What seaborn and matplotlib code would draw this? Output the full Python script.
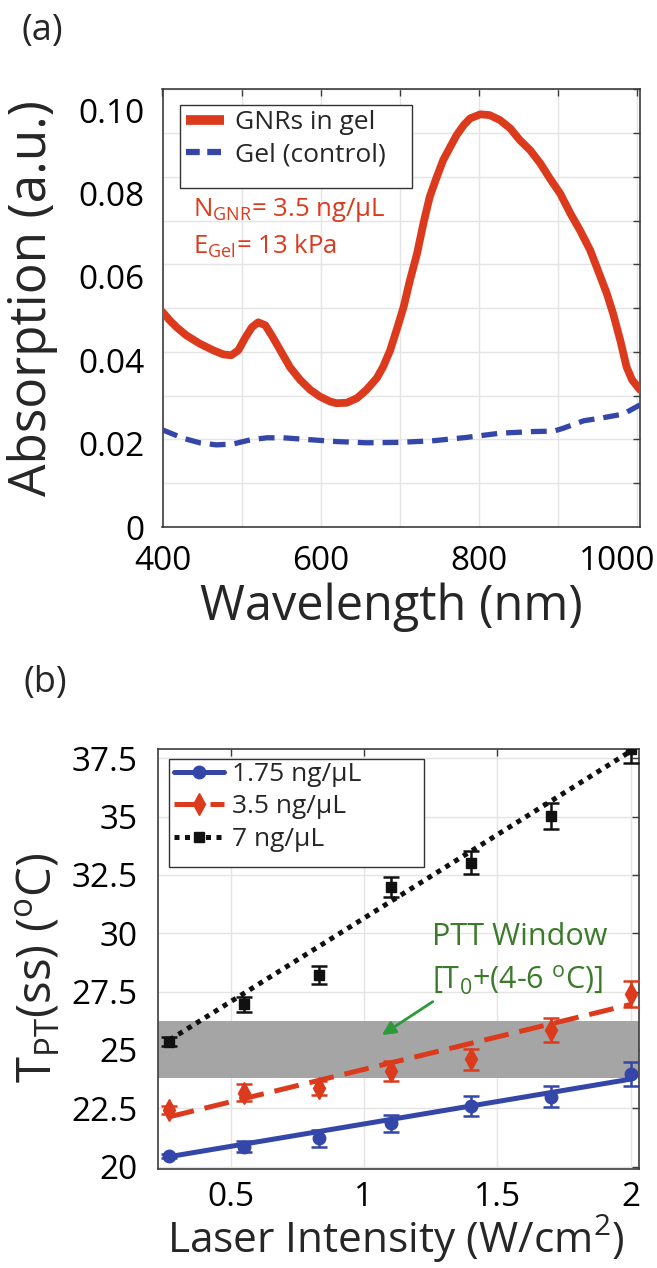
import numpy as np
import pandas as pd
import matplotlib
matplotlib.use("Agg")
import matplotlib.pyplot as plt
import matplotlib.transforms as mtransforms
from matplotlib.lines import Line2D
from matplotlib.patches import Rectangle
from matplotlib.ticker import FixedLocator
import seaborn as sns

# ---------------- (a) absorption spectra ----------------
gnr_wavelength = [400, 409, 418, 430, 447, 464, 477, 487, 496, 504, 513, 521, 530,
                  538, 549, 561, 574, 587, 599, 612, 620, 633, 646, 658, 671, 679,
                  688, 696, 705, 713, 722, 730, 738, 747, 755, 764, 772, 781, 789,
                  802, 814, 827, 840, 852, 865, 878, 890, 903, 916, 928, 941, 954,
                  962, 970, 979, 987, 994, 1004]
gnr_absorption = [0.0516, 0.0496, 0.0479, 0.0460, 0.0440, 0.0424, 0.0414, 0.0412,
                  0.0424, 0.0452, 0.0479, 0.0491, 0.0484, 0.0460, 0.0424, 0.0384,
                  0.0353, 0.0329, 0.0313, 0.0301, 0.0297, 0.0298, 0.0309, 0.0329,
                  0.0357, 0.0384, 0.0424, 0.0472, 0.0528, 0.0592, 0.0656, 0.0728,
                  0.0792, 0.0840, 0.0880, 0.0912, 0.0940, 0.0964, 0.0980, 0.0990,
                  0.0988, 0.0976, 0.0956, 0.0928, 0.0904, 0.0872, 0.0836, 0.0800,
                  0.0752, 0.0712, 0.0664, 0.0600, 0.0560, 0.0512, 0.0448, 0.0384,
                  0.0353, 0.0329]
gel_wavelength = [400, 426, 447, 468, 489, 511, 532, 553, 582, 620, 658, 700, 743,
                  785, 827, 869, 895, 907, 933, 954, 983, 1004]
gel_absorption = [0.0233, 0.0213, 0.0202, 0.0197, 0.0199, 0.0209, 0.0214, 0.0214,
                  0.0210, 0.0205, 0.0202, 0.0203, 0.0207, 0.0215, 0.0225, 0.0229,
                  0.0230, 0.0237, 0.0255, 0.0261, 0.0271, 0.0293]
spectrum_labels = ["GNRs in gel", "Gel (control)"]
abs_ticks = [0, 0.02, 0.04, 0.06, 0.08, 0.10]
abs_ticklabels = ["0", "0.02", "0.04", "0.06", "0.08", "0.10"]
wl_ticks = [400, 600, 800, 1000]

# ---------------- (b) photothermal temperature ----------------
intensity = [0.27, 0.55, 0.83, 1.1, 1.4, 1.7, 2.0]
temp_175 = [20.47, 20.86, 21.22, 21.86, 22.61, 23.00, 23.96]
err_175 = [0.08, 0.24, 0.36, 0.36, 0.43, 0.45, 0.51]
temp_35 = [22.43, 23.17, 23.36, 24.10, 24.60, 25.86, 27.40]
err_35 = [0.16, 0.36, 0.30, 0.41, 0.44, 0.51, 0.54]
temp_7 = [25.36, 26.96, 28.22, 31.98, 33.03, 35.03, 37.89]
err_7 = [0.18, 0.32, 0.38, 0.43, 0.50, 0.54, 0.60]
fit_intensity = [0.27, 2.0]
fit_175 = [20.43, 23.75]
fit_35 = [22.14, 26.95]
fit_7 = [25.43, 37.80]
ptt_window = [23.8, 26.25]
conc_labels = ["1.75 ng/\u03bcL", "3.5 ng/\u03bcL", "7 ng/\u03bcL"]
temp_ticks = [20, 22.5, 25, 27.5, 30, 32.5, 35, 37.5]
temp_ticklabels = ["20", "22.5", "25", "27.5", "30", "32.5", "35", "37.5"]
int_ticks = [0.5, 1, 1.5, 2]
int_ticklabels = ["0.5", "1", "1.5", "2"]

RED = "#DC3A1C"
BLUE = "#3447A8"
BLACK = "#111111"
GRID = "#E4E4E4"
FRAME = "#3C3C3C"
GREEN_TEXT = "#3C7A2B"
GREEN_ARROW = "#2C9A3A"

sns.set_style("white")
plt.rcParams["font.family"] = ["Open Sans", "DejaVu Sans"]
plt.rcParams["mathtext.fontset"] = "custom"
plt.rcParams["mathtext.rm"] = "Open Sans"
plt.rcParams["mathtext.it"] = "Open Sans:italic"
plt.rcParams["mathtext.bf"] = "Open Sans:bold"

W, H = 657, 1268
fig = plt.figure(figsize=(W / 100, H / 100), dpi=100)


def axes_px(left, top, right, bottom):
    return fig.add_axes([left / W, 1 - bottom / H, (right - left) / W, (bottom - top) / H])


def px_box(ax, left, top, right, bottom):
    """White legend box given in figure pixels."""
    r = Rectangle((left / W, 1 - bottom / H), (right - left) / W, (bottom - top) / H,
                  transform=fig.transFigure, facecolor="white", edgecolor="#333333",
                  linewidth=1.0, zorder=5, clip_on=False)
    ax.add_patch(r)


def style_frame(ax):
    for sp in ax.spines.values():
        sp.set_color(FRAME)
        sp.set_linewidth(1.2)
    ax.tick_params(which="both", direction="in", top=True, right=True,
                   color=FRAME, width=1.0, labelsize=24, labelcolor="black")
    ax.tick_params(which="major", length=5)
    ax.tick_params(which="minor", length=5)


# ---------------- panel (a) ----------------
ax1 = axes_px(162.5, 89.3, 640, 527)
spec_gnr = pd.DataFrame({"wavelength": gnr_wavelength, "absorption": gnr_absorption})
spec_gel = pd.DataFrame({"wavelength": gel_wavelength, "absorption": gel_absorption})
sns.lineplot(data=spec_gnr, x="wavelength", y="absorption", ax=ax1, color=RED,
             linewidth=5.6, estimator=None, sort=False, zorder=3)
sns.lineplot(data=spec_gel, x="wavelength", y="absorption", ax=ax1, color=BLUE,
             linewidth=3.8, estimator=None, sort=False, zorder=3)
ax1.lines[-1].set_dashes((3.0, 1.7))
ax1.set_xlim(400, 1004)
ax1.set_ylim(0, 0.105)
style_frame(ax1)

ax1.xaxis.set_major_locator(FixedLocator(wl_ticks))
ax1.xaxis.set_minor_locator(FixedLocator(np.arange(400, 1001, 100)))
ax1.set_xticklabels([str(t) for t in wl_ticks])
ax1.yaxis.set_major_locator(FixedLocator(abs_ticks))
ax1.set_yticklabels(abs_ticklabels)
ax1.yaxis.set_minor_locator(FixedLocator(np.linspace(0, 0.105, 11)))
ax1.tick_params(axis="y", which="major", length=0, pad=13)
ax1.tick_params(axis="x", which="major", pad=13)
ax1.grid(True, which="minor", color=GRID, linewidth=1.0, zorder=0)
ax1.grid(False, which="major", axis="y")
ax1.grid(True, which="major", axis="x", color=GRID, linewidth=1.0)
ax1.set_axisbelow(True)
# keep the last wavelength label inside the figure
last = ax1.get_xticklabels()[-1]
last.set_transform(last.get_transform() + mtransforms.ScaledTranslation(-0.2, 0, fig.dpi_scale_trans))
ax1.set_xlabel("")
ax1.set_ylabel("")

px_box(ax1, 180, 105, 412.3, 188.3)
h_a = [Line2D([], [], color=RED, lw=7, solid_capstyle="butt"),
       Line2D([], [], color=BLUE, lw=4.5, dashes=(2.2, 1.2))]
leg1 = ax1.legend(h_a, spectrum_labels, loc="upper left",
                  bbox_to_anchor=(186 / W, 1 - 110 / H), bbox_transform=fig.transFigure,
                  borderaxespad=0, borderpad=0, fontsize=19, frameon=False,
                  handlelength=1.45, handletextpad=0.4, labelspacing=0.28)
leg1.set_zorder(6)

ax1.text(0.063, 0.725, "N$_{\\rm GNR}$= 3.5 ng/\u03bcL",
         transform=ax1.transAxes, color=RED, fontsize=18.5, va="center", ha="left")
ax1.text(0.063, 0.64, r"E$_{\rm Gel}$= 13 kPa", transform=ax1.transAxes, color=RED,
         fontsize=18.5, va="center", ha="left")

fig.text(42 / W, 1 - 31 / H, "(a)", fontsize=26, ha="center", va="center")
fig.text(391 / W, 1 - 607 / H, "Wavelength (nm)", fontsize=35, ha="center", va="center")
fig.text(33 / W, 1 - 298 / H, "Absorption (a.u.)", fontsize=37, ha="center",
         va="center", rotation=90)

# ---------------- panel (b) ----------------
ax2 = axes_px(157.5, 748.5, 638.5, 1169)
ax2.axhspan(ptt_window[0], ptt_window[1], color="#A5A5A5", zorder=1, lw=0)

fits = pd.DataFrame({
    "intensity": fit_intensity * 3,
    "temp": fit_175 + fit_35 + fit_7,
    "conc": [conc_labels[0]] * 2 + [conc_labels[1]] * 2 + [conc_labels[2]] * 2,
})
sns.lineplot(data=fits, x="intensity", y="temp", hue="conc", style="conc",
             palette=[BLUE, RED, BLACK], dashes=["", (5, 2.2), (1, 1.1)],
             linewidth=3.6, ax=ax2, legend=False, zorder=3, estimator=None)
for ln in ax2.lines:
    ln.set_dash_capstyle("butt")

series = [(temp_175, err_175, BLUE, "o", 9),
          (temp_35, err_35, RED, "d", 11),
          (temp_7, err_7, BLACK, "s", 7)]
for temps, errs, col, mk, ms in series:
    ax2.errorbar(intensity, temps, yerr=errs, fmt=mk, color=col, ms=ms,
                 mec=col, mfc=col, ecolor=col, elinewidth=1.8, capsize=5.5,
                 capthick=1.8, zorder=4)

ax2.set_xlim(0.225, 2.03)
ax2.set_ylim(19.9, 37.92)
style_frame(ax2)
ax2.xaxis.set_major_locator(FixedLocator(int_ticks))
ax2.set_xticklabels(int_ticklabels)
ax2.yaxis.set_major_locator(FixedLocator(temp_ticks))
ax2.set_yticklabels(temp_ticklabels)
ax2.tick_params(axis="y", which="major", pad=14.5)
ax2.tick_params(axis="x", which="major", pad=9)
ax2.grid(True, which="major", color=GRID, linewidth=1.0)
ax2.set_axisbelow(True)
ax2.set_xlabel("")
ax2.set_ylabel("")

px_box(ax2, 169, 759.3, 424, 867.3)
h_b = [Line2D([], [], color=BLUE, lw=3.6, marker="o", ms=9),
       Line2D([], [], color=RED, lw=3.6, marker="d", ms=11, dashes=(5, 2.2)),
       Line2D([], [], color=BLACK, lw=3.6, marker="s", ms=7, dashes=(1, 1.1))]
leg2 = ax2.legend(h_b, conc_labels, loc="upper left",
                  bbox_to_anchor=(174 / W, 1 - 762 / H), bbox_transform=fig.transFigure,
                  borderaxespad=0, borderpad=0, fontsize=19, frameon=False,
                  handlelength=1.9, handletextpad=0.3, labelspacing=0.28)
leg2.set_zorder(6)

ax2.text(1.254, 29.86, "PTT Window", color=GREEN_TEXT, fontsize=22, ha="left", va="center")
ax2.text(1.254, 28.0, r"[T$_{\rm 0}$+(4-6 $^{\rm o}$C)]", color=GREEN_TEXT, fontsize=22,
         ha="left", va="center")
ax2.annotate("", xy=(1.067, 25.64), xytext=(1.258, 27.07),
             arrowprops=dict(arrowstyle="-|>", color=GREEN_ARROW, lw=2.0,
                             mutation_scale=20, shrinkA=0, shrinkB=0), zorder=5)

fig.text(45 / W, 1 - 683 / H, "(b)", fontsize=26, ha="center", va="center")
fig.text(396 / W, 1 - 1239 / H, r"Laser Intensity (W/cm$^{\rm 2}$)", fontsize=30.5,
         ha="center", va="center")
fig.text(38 / W, 1 - 968 / H, r"T$_{\rm PT}$(ss) ($^{\rm o}$C)", fontsize=34,
         ha="center", va="center", rotation=90)

fig.savefig("out.png", dpi=100)
